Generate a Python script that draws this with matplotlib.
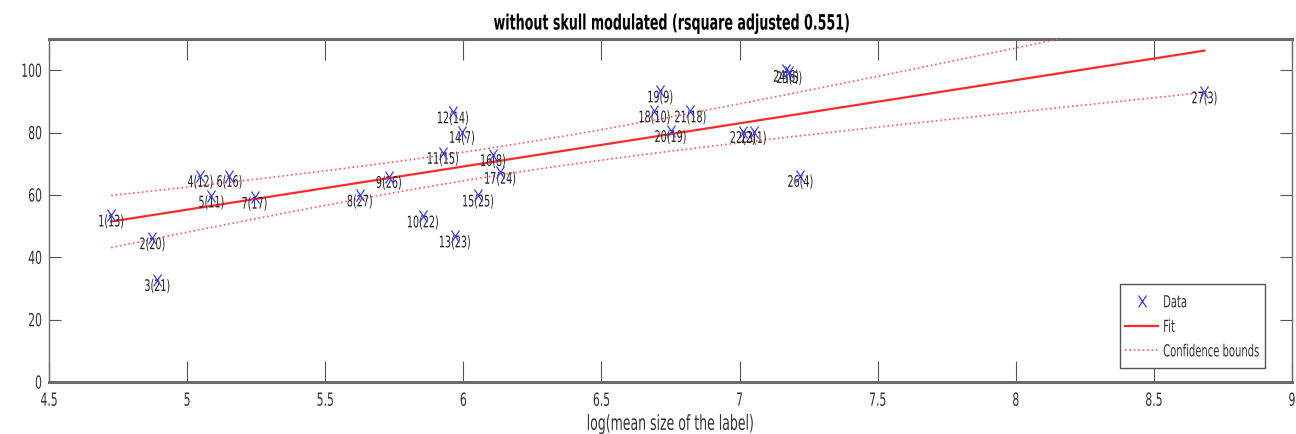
import numpy as np
import matplotlib
matplotlib.use('Agg')
import matplotlib.pyplot as plt
from matplotlib.patheffects import AbstractPathEffect
from matplotlib.markers import MarkerStyle
from matplotlib.transforms import Affine2D

# data
labels = ['1(13)', '2(20)', '3(21)', '4(12)', '5(11)', '6(16)', '7(17)', '8(27)', '9(26)',
          '10(22)', '11(15)', '12(14)', '13(23)', '14(7)', '15(25)', '16(8)', '17(24)',
          '18(10)', '19(9)', '20(19)', '21(18)', '22(2)', '23(1)', '24(6)', '25(5)',
          '26(4)', '27(3)']
log_size = [4.725, 4.874, 4.892, 5.048, 5.088, 5.153, 5.244, 5.625, 5.730,
            5.853, 5.926, 5.962, 5.969, 5.995, 6.053, 6.107, 6.133,
            6.692, 6.713, 6.750, 6.822, 7.011, 7.051, 7.168, 7.180,
            7.220, 8.683]
overlap = [53.5, 46.2, 32.8, 66.2, 59.6, 66.2, 59.2, 59.9, 65.9,
           53.2, 73.6, 86.6, 46.8, 80.3, 59.9, 72.9, 67.2,
           86.9, 93.3, 80.6, 86.9, 80.3, 80.3, 99.9, 99.5,
           66.2, 93.0]

SQ = 0.6  # the original figure looks squeezed horizontally by about this much


class Stretch(AbstractPathEffect):
    """stretch a path vertically around a point of its extents"""
    def __init__(self, sy, frac=0.5):
        super().__init__()
        self.sy = sy
        self.frac = frac

    def draw_path(self, renderer, gc, tpath, affine, rgbFace=None):
        ext = tpath.get_extents()
        a = ext.y0 + self.frac * (ext.y1 - ext.y0)
        t = Affine2D().translate(0, -a).scale(1, self.sy).translate(0, a) + affine
        renderer.draw_path(gc, tpath, t, rgbFace)


def narrow(txt, frac=0.5):
    # small font + tall glyphs = narrow looking text
    txt.set_path_effects([Stretch(1 / SQ, frac)])


x = np.array(log_size)
y = np.array(overlap)
n = len(x)

# linear fit + 95% confidence bounds on the fitted function
p = np.polyfit(x, y, 1)
xf = np.linspace(x.min(), x.max(), 200)
yf = np.polyval(p, xf)
res = y - np.polyval(p, x)
s = np.sqrt(np.sum(res**2) / (n - 2))
t = 2.0595  # t(0.975, 25)
se = s * np.sqrt(1.0/n + (xf - x.mean())**2 / np.sum((x - x.mean())**2))

fig = plt.figure(figsize=(12.96, 4.35), dpi=100)
ax = fig.add_axes([49/1296, 52/435, 1243/1296, 343/435])

xmark = MarkerStyle('x', transform=Affine2D().scale(SQ, 1))
ax.plot(x, y, linestyle='none', marker=xmark, color='#3a3aff', ms=9, mew=0.9, label='Data', zorder=4)
ax.plot(xf, yf, '-', color='#ff2a2a', lw=1.6, label='Fit', zorder=3)
ax.plot(xf, yf + t*se, ':', color='#ff5a5a', lw=1.2, label='Confidence bounds', zorder=3)
ax.plot(xf, yf - t*se, ':', color='#ff5a5a', lw=1.2, zorder=3)

for xi, yi, lab in zip(x, y, labels):
    a = ax.annotate(lab, (xi, yi), xytext=(0, -4.5), textcoords='offset points',
                    ha='center', va='center', fontsize=11.5*SQ, color='#222222')
    narrow(a)

ax.set_xlim(4.5, 9)
ax.set_ylim(0, 110)
ax.set_xticks(np.arange(4.5, 9.01, 0.5))
ax.set_xticklabels(['4.5', '5', '5.5', '6', '6.5', '7', '7.5', '8', '8.5', '9'], fontsize=13*SQ)
ax.set_yticks(range(0, 101, 20))
ax.set_yticklabels([str(v) for v in range(0, 101, 20)], fontsize=13*SQ)
for lab in ax.get_xticklabels():
    narrow(lab, 1.0)
for lab in ax.get_yticklabels():
    narrow(lab, 0.5)
ax.tick_params(axis='x', direction='in', length=15, width=0.8, color='#555555',
               top=True, labelcolor='#333333', pad=7.5)
ax.tick_params(axis='y', direction='in', length=8.5, width=0.8, color='#555555',
               right=True, labelcolor='#333333', pad=5)
for side in ['top', 'bottom']:
    ax.spines[side].set_linewidth(2.2)
    ax.spines[side].set_color('#6a6a6a')
for side in ['left', 'right']:
    ax.spines[side].set_linewidth(1)
    ax.spines[side].set_color('#6a6a6a')

xl = ax.set_xlabel('log(mean size of the label)', fontsize=15*SQ, color='#333333', labelpad=8)
narrow(xl, 1.0)
ax.set_ylabel('% of overlap', fontsize=11, color='#333333', labelpad=16)
tt = ax.set_title('without skull modulated (rsquare adjusted 0.551)',
                  fontsize=15.2*SQ, fontweight='bold', pad=5.5)
narrow(tt, 0.0)

leg = ax.legend(loc='lower right', bbox_to_anchor=(0.978, 0.06), borderaxespad=0,
                prop={'size': 12*SQ}, fancybox=False, framealpha=1, edgecolor='#555555',
                handlelength=3.3, handletextpad=0.5, labelspacing=1.45, borderpad=0.55)
leg.get_frame().set_linewidth(1)
leg.get_frame().set_path_effects([Stretch(1.2)])
for txt in leg.get_texts():
    txt.set_color('#333333')
    narrow(txt, 0.5)

fig.savefig('out.png', dpi=100)
